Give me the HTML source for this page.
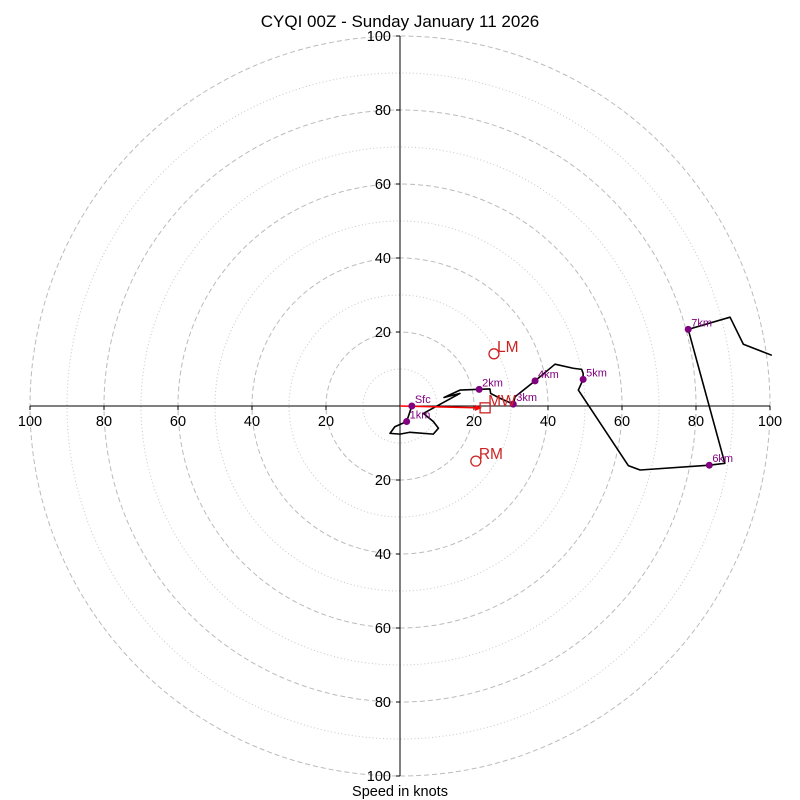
<!DOCTYPE html>
<html><head><meta charset="utf-8"><style>
html,body{margin:0;padding:0;background:#fff;}
svg{display:block;font-family:"Liberation Sans","DejaVu Sans",sans-serif;}
</style></head><body>
<svg id="chart" width="800" height="800" viewBox="0 0 800 800" xmlns="http://www.w3.org/2000/svg">
<rect width="800" height="800" fill="#fff"/>
<text x="400" y="27" font-size="17" text-anchor="middle" fill="#000">CYQI 00Z - Sunday January 11 2026</text>
<text x="400" y="796" font-size="14.5" text-anchor="middle" fill="#000">Speed in knots</text>
<g id="grid"></g><g id="axes"></g><g id="series"></g>
</svg>
<script>
const ringsDashed=[20,40,60,80,100];
const ringsDotted=[10,30,50,70,90];
const tickVals=[-100,-80,-60,-40,-20,20,40,60,80,100];
const pathU=[3.2,1.8,-1.4,-2.7,0,2.7,9.0,10.4,9.0,6.3,16.2,11.9,16.2,21.4,24.3,24.5,27.0,30.6,31.1,36.5,41.9,46.8,49.1,49.5,49.5,48.2,61.7,64.9,83.6,87.8,77.9,89.2,92.8,100.5];
const pathV=[0,-4.2,-5.6,-7.4,-7.6,-7.1,-7.6,-6.0,-4.2,-2.0,3.4,2.3,4.3,4.5,4.6,3.4,2.1,0.5,2.5,6.8,11.3,10.2,9.9,8.8,7.2,4.3,-16.1,-17.3,-16.0,-15.5,20.7,24.0,16.7,13.7];
const hLabels=["Sfc","1km","2km","3km","4km","5km","6km","7km"];
const hU=[3.2,1.8,21.4,30.6,36.5,49.5,83.6,77.9];
const hV=[0,-4.2,4.5,0.5,6.8,7.2,-16.0,20.7];
const motionLabels=["LM","RM","MW"];
const motionU=[25.4,20.5,23.0];
const motionV=[14.1,-14.9,-0.5];

const CX=400,CY=406,R=370;
const sx=u=>CX+u*R/100, sy=v=>CY-v*R/100;
const NS="http://www.w3.org/2000/svg";
function mk(tag,parent,attrs){const e=document.createElementNS(NS,tag);for(const k in attrs)e.setAttribute(k,attrs[k]);parent.appendChild(e);return e;}
const grid=document.getElementById('grid'),axes=document.getElementById('axes'),series=document.getElementById('series');

ringsDotted.forEach(r=>{const c=mk('circle',grid,{cx:CX,cy:CY,r:r*R/100,fill:'none',stroke:'#c8c8c8','stroke-width':1,'stroke-dasharray':'1,2.5'});

});
ringsDashed.forEach(r=>{const c=mk('circle',grid,{cx:CX,cy:CY,r:r*R/100,fill:'none',stroke:'#bbbbbb','stroke-width':1,'stroke-dasharray':'5,3'});

});

let a=mk('line',axes,{x1:sx(-100),y1:CY,x2:sx(100),y2:CY,stroke:'#000','stroke-width':1});


a=mk('line',axes,{x1:CX,y1:sy(100),x2:CX,y2:sy(-100),stroke:'#000','stroke-width':1});


tickVals.forEach(t=>{
 mk('line',axes,{x1:sx(t),y1:CY,x2:sx(t),y2:CY+4,stroke:'#000'});
 let tx=mk('text',axes,{x:sx(t),y:CY+20,'font-size':14.5,'text-anchor':'middle',fill:'#000'});tx.textContent=Math.abs(t);
 
 
 mk('line',axes,{x1:CX-4,y1:sy(t),x2:CX,y2:sy(t),stroke:'#000'});
 let ty=mk('text',axes,{x:CX-9,y:sy(t)+5,'font-size':14.5,'text-anchor':'end',fill:'#000'});ty.textContent=Math.abs(t);
 
 
});

const pts=pathU.map((u,i)=>sx(u)+','+sy(pathV[i])).join(' ');
const pl=mk('polyline',series,{points:pts,fill:'none',stroke:'#000','stroke-width':1.6,'stroke-linejoin':'round'});



const mwx=sx(motionU[2]),mwy=sy(motionV[2]);
const ar=mk('line',series,{x1:CX,y1:CY,x2:mwx-6,y2:mwy,stroke:'#ff0000','stroke-width':1.6});


const ah=mk('polygon',series,{points:(mwx-3)+','+mwy+' '+(mwx-10)+','+(mwy-3)+' '+(mwx-10)+','+(mwy+3),fill:'#ff0000'});



hLabels.forEach((l,i)=>{
 const d=mk('circle',series,{cx:sx(hU[i]),cy:sy(hV[i]),r:3.5,fill:'#800080'});
 
 
 const t=mk('text',series,{x:sx(hU[i])+3,y:sy(hV[i])-3,'font-size':11,fill:'#800080'});t.textContent=l;
 
 
});

motionLabels.forEach((l,i)=>{
 const x=sx(motionU[i]),y=sy(motionV[i]);
 let m;
 if(l==='MW') m=mk('rect',series,{x:x-5,y:y-5,width:10,height:10,fill:'none',stroke:'#cc2222','stroke-width':1.3});
 else m=mk('circle',series,{cx:x,cy:y,r:5,fill:'none',stroke:'#cc2222','stroke-width':1.3});
 
 
 const t=mk('text',series,{x:x+3,y:y-2,'font-size':15.5,fill:'#cc2222'});t.textContent=l;
 
 
});
</script>
</body></html>
